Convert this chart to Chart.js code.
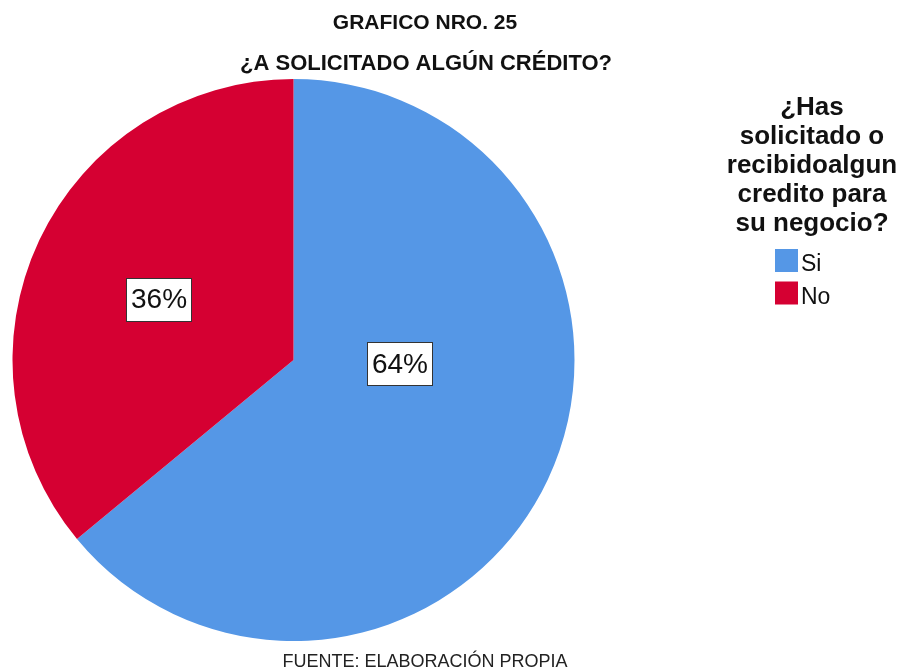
<!DOCTYPE html>
<html>
<head>
<meta charset="utf-8">
<script src="https://cdn.jsdelivr.net/npm/chart.js@4.4.1/dist/chart.umd.min.js"></script>
<style>
  html, body { margin: 0; padding: 0; background: #fff; }
  #wrap { width: 905px; height: 672px; }
</style>
</head>
<body>
<div id="wrap"><canvas id="pie" width="905" height="672"></canvas></div>
<script>
// data
const categories = ['Si', 'No'];
const percents = [64, 36];
const sliceColors = ['#5597e6', '#d50032'];
const titleLines = ['GRAFICO NRO. 25', '¿A SOLICITADO ALGÚN CRÉDITO?'];
const legendTitle = ['¿Has', 'solicitado o', 'recibidoalgun', 'credito para', 'su negocio?'];
const footerText = 'FUENTE: ELABORACIÓN PROPIA';

const FONT = '"Liberation Sans", Arial, sans-serif';

// labels inside slices, boxed like the SPSS output
const sliceLabels = {
  id: 'sliceLabels',
  afterDatasetsDraw(chart, args, opts) {
    const ctx = chart.ctx;
    const meta = chart.getDatasetMeta(0);
    ctx.save();
    ctx.font = `28px ${FONT}`;
    ctx.textAlign = 'center';
    ctx.textBaseline = 'middle';
    meta.data.forEach((arc, i) => {
      const p = arc.getProps(['x', 'y', 'startAngle', 'endAngle', 'outerRadius'], true);
      const mid = (p.startAngle + p.endAngle) / 2;
      const nudge = opts.nudge[i] || [0, 0];
      const x = p.x + Math.cos(mid) * p.outerRadius * opts.radiusFactor + nudge[0];
      const y = p.y + Math.sin(mid) * p.outerRadius * opts.radiusFactor + nudge[1];
      const text = chart.data.datasets[0].data[i] + '%';
      const w = ctx.measureText(text).width + 9;
      const h = 43;
      ctx.fillStyle = '#fff';
      ctx.fillRect(Math.round(x - w / 2), Math.round(y - h / 2), Math.round(w), h);
      ctx.strokeStyle = '#333';
      ctx.lineWidth = 1;
      ctx.strokeRect(Math.round(x - w / 2) + 0.5, Math.round(y - h / 2) + 0.5, Math.round(w), h);
      ctx.fillStyle = '#111';
      ctx.fillText(text, x, y + 1);
    });
    ctx.restore();
  }
};

// titles, legend block and footer
const decorations = {
  id: 'decorations',
  afterDraw(chart) {
    const ctx = chart.ctx;
    ctx.save();
    ctx.fillStyle = '#111';
    ctx.textAlign = 'center';
    ctx.textBaseline = 'alphabetic';
    ctx.font = `bold 21px ${FONT}`;
    ctx.fillText(titleLines[0], 425, 29);
    ctx.font = `bold 22px ${FONT}`;
    ctx.fillText(titleLines[1], 426, 70);

    ctx.font = `bold 26px ${FONT}`;
    legendTitle.forEach((line, i) => ctx.fillText(line, 812, 115 + i * 29));

    ctx.textAlign = 'left';
    ctx.font = `23px ${FONT}`;
    categories.forEach((cat, i) => {
      const top = 249 + i * 32.5;
      ctx.fillStyle = sliceColors[i];
      ctx.fillRect(775, top, 23, 23);
      ctx.fillStyle = '#111';
      ctx.fillText(cat, 801, top + 22);
    });

    ctx.textAlign = 'center';
    ctx.fillStyle = '#222';
    ctx.font = `18px ${FONT}`;
    ctx.fillText(footerText, 425, 667);
    ctx.restore();
  }
};

new Chart(document.getElementById('pie'), {
  type: 'pie',
  data: {
    labels: categories,
    datasets: [{
      data: percents,
      backgroundColor: sliceColors,
      borderWidth: 0,
    }],
  },
  options: {
    responsive: false,
    devicePixelRatio: 1,
    animation: false,
    layout: { padding: { left: 12, right: 330, top: 79, bottom: 31 } },
    plugins: {
      legend: { display: false },
      tooltip: { enabled: false },
      title: { display: false },
      sliceLabels: { radiusFactor: 0.525, nudge: [[-27, -59], [-1, 2]] },
    },
  },
  plugins: [sliceLabels, decorations],
});
</script>
</body>
</html>
